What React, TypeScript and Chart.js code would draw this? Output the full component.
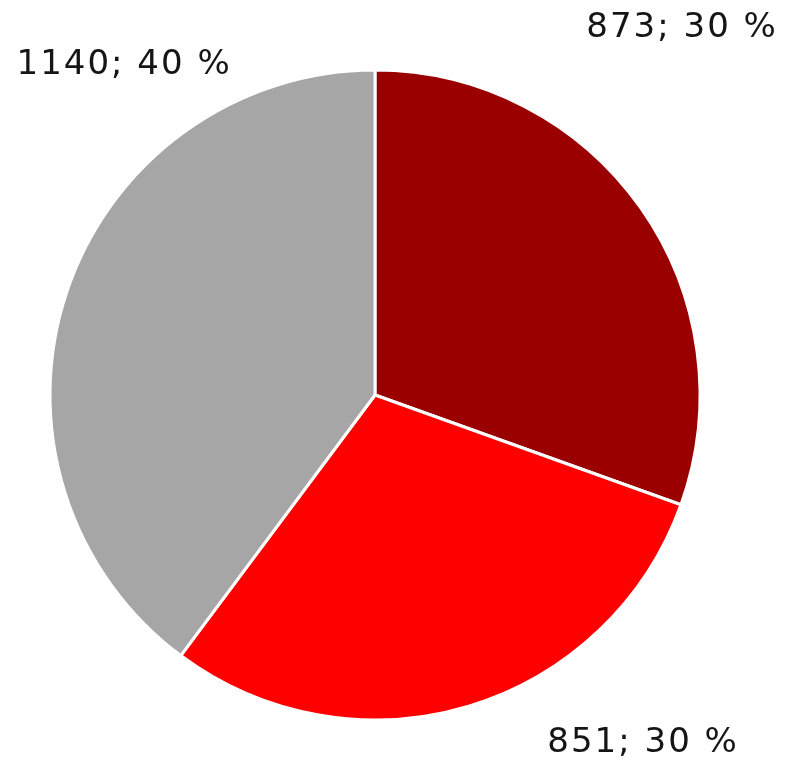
import React, { useEffect, useRef } from "react";
import { Chart, registerables } from "chart.js";

Chart.register(...registerables);

const categories = ["A", "B", "C"];
const values = [873, 851, 1140];
const colors = ["#9a0000", "#ff0000", "#a6a6a6"];
// label anchor offsets, in units of pie radius, relative to pie centre
const labelAnchors: [number, number][] = [
  [0.945, -1.13],
  [0.825, 1.07],
  [-0.772, -1.015],
];

const labelPlugin = {
  id: "pieLabels",
  afterDraw(chart: any) {
    const meta = chart.getDatasetMeta(0);
    const ctx = chart.ctx;
    const total = values.reduce((a, b) => a + b, 0);
    ctx.save();
    ctx.font = "34px 'DejaVu Sans', Verdana, sans-serif";
    (ctx as any).letterSpacing = "2px";
    ctx.fillStyle = "#151515";
    ctx.textAlign = "center";
    ctx.textBaseline = "middle";
    meta.data.forEach((arc: any, i: number) => {
      const { x, y, outerRadius } = arc.getProps(["x", "y", "outerRadius"], true);
      const [fx, fy] = labelAnchors[i];
      const pct = Math.round((values[i] / total) * 100);
      ctx.fillText(`${values[i]}; ${pct} %`, x + fx * outerRadius, y + fy * outerRadius);
    });
    ctx.restore();
  },
};

export default function App() {
  const ref = useRef<HTMLCanvasElement | null>(null);
  useEffect(() => {
    document.body.style.margin = "0";
    const chart = new Chart(ref.current!, {
      type: "pie",
      data: {
        labels: categories,
        datasets: [
          {
            data: values,
            backgroundColor: colors,
            borderColor: "#ffffff",
            borderWidth: 3,
            hoverOffset: 0,
          },
        ],
      },
      options: {
        responsive: false,
        animation: false,
        events: [],
        layout: { padding: { left: 48.5, right: 85.5, top: 68.5, bottom: 41.5 } },
        plugins: { legend: { display: false }, tooltip: { enabled: false } },
      },
      plugins: [labelPlugin],
    });
    return () => chart.destroy();
  }, []);
  return (
    <div style={{ position: "absolute", left: 0, top: 0, width: 787, height: 763, background: "#fff" }}>
      <canvas ref={ref} width={787} height={763} />
    </div>
  );
}
